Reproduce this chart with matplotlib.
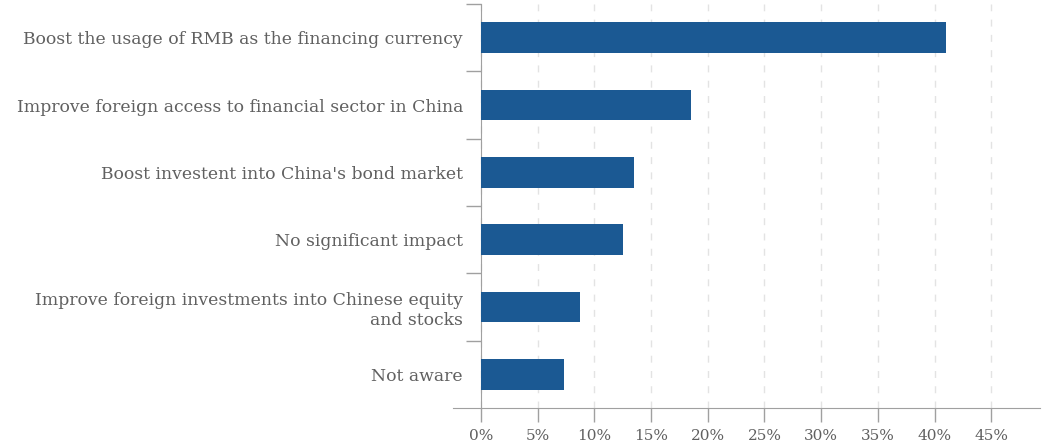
import matplotlib

matplotlib.use("Agg")
import matplotlib.pyplot as plt
import numpy as np

categories = [
    "Boost the usage of RMB as the financing currency",
    "Improve foreign access to financial sector in China",
    "Boost investent into China's bond market",
    "No significant impact",
    "Improve foreign investments into Chinese equity\nand stocks",
    "Not aware",
]
shares = [41.0, 18.5, 13.5, 12.5, 8.7, 7.3]
x_ticks = [0, 5, 10, 15, 20, 25, 30, 35, 40, 45]
x_labels = [f"{t}%" for t in x_ticks]

BAR = "#1b5993"
TEXT = "#606060"
AXIS = "#a0a0a0"

plt.rcParams["font.family"] = ["DejaVu Serif"]

W, H = 1043, 446
fig = plt.figure(figsize=(W / 100, H / 100), dpi=100)
left_px, right_px, top_px, bottom_px = 452.6, 1040, 4, 408
ax = fig.add_axes([left_px / W, 1 - bottom_px / H,
                   (right_px - left_px) / W, (bottom_px - top_px) / H])

y = np.arange(len(categories))
ax.barh(y, shares, height=0.46, color=BAR, zorder=3)

ax.set_xlim(-2.5, 49.3)
ax.set_ylim(len(categories) - 0.5, -0.5)

# category labels at bar centres, tick marks at the boundaries
ax.set_yticks(y)
ax.set_yticklabels(categories, linespacing=1.3)
ax.tick_params(axis="y", which="major", length=0, pad=13,
               labelsize=12.4, labelcolor=TEXT)
ax.set_yticks(np.arange(-0.5, len(categories) - 0.5, 1), minor=True)
ax.tick_params(axis="y", which="minor", length=11, color=AXIS, width=1)

ax.set_xticks(x_ticks)
ax.set_xticklabels(x_labels)
ax.tick_params(axis="x", length=10, color=AXIS, width=1, pad=5,
               labelsize=11, labelcolor=TEXT)

ax.xaxis.grid(True, linestyle=(0, (5, 6)), color="#e3e3e3", linewidth=1)
ax.set_axisbelow(True)

for s in ("top", "right"):
    ax.spines[s].set_visible(False)
ax.spines["left"].set_position(("data", 0))
ax.spines["left"].set_color(AXIS)
ax.spines["bottom"].set_color(AXIS)

fig.savefig("out.png", dpi=100)
